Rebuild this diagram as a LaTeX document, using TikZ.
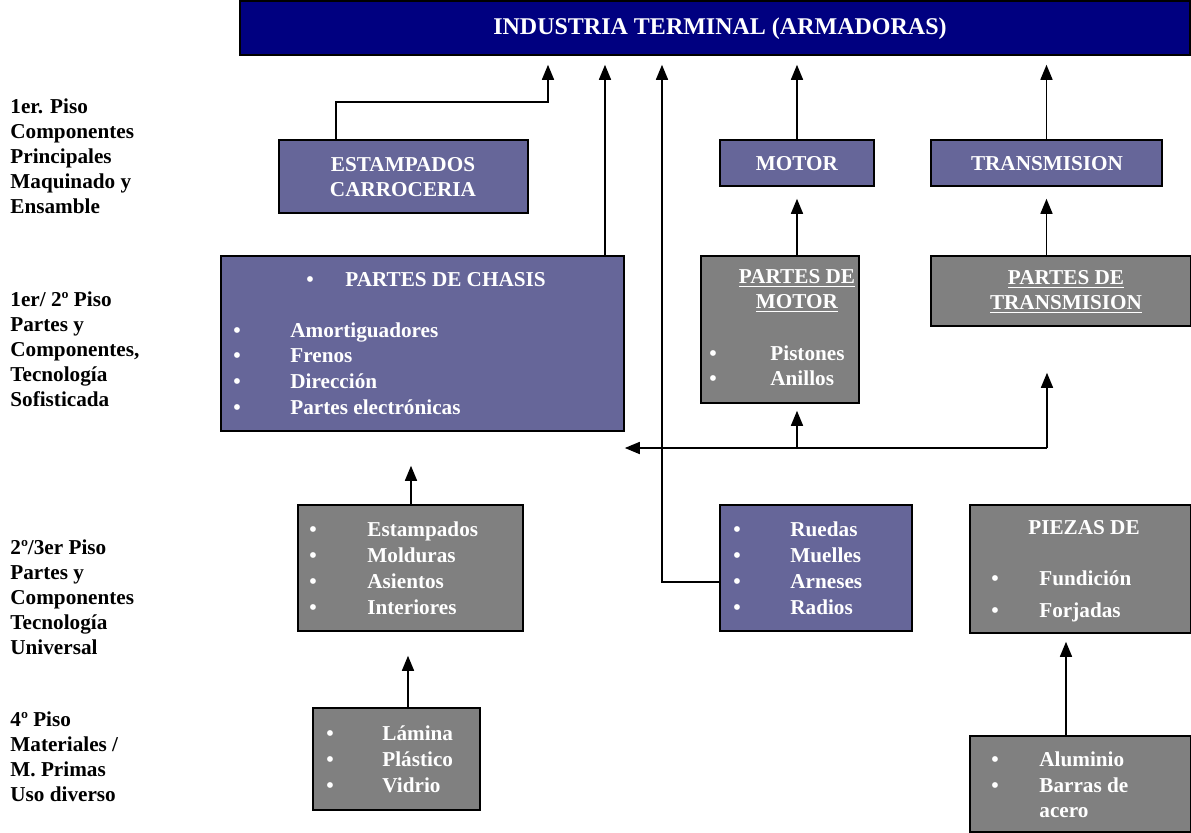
\documentclass[tikz,border=0pt]{standalone}
\usepackage{fontspec}
\setmainfont{Liberation Serif}
\usetikzlibrary{arrows.meta,fit}

\definecolor{navyband}{RGB}{0,0,128}
\definecolor{boxpurple}{RGB}{102,102,153}
\definecolor{boxgray}{RGB}{128,128,128}

\tikzset{
  box/.style={draw=black, line width=0.8pt, inner sep=0pt},
  band/.style={box, fill=navyband},
  purplebox/.style={box, fill=boxpurple},
  graybox/.style={box, fill=boxgray},
  txt/.style={text=white, font=\bfseries, inner sep=0pt},
  item/.style={txt, anchor=west, text height=7.4pt, text depth=2.4pt},
  dot/.style={txt, text height=7.4pt, text depth=2.4pt},
  lbl/.style={font=\bfseries, align=left, anchor=west, inner sep=0pt},
  link/.style={line width=0.8pt},
  arr/.style={link, -{Triangle[length=7.5pt,width=6pt]}}
}

\begin{document}
\fontsize{10.6}{12.5}\selectfont
\begin{tikzpicture}[x=0.5pt,y=-0.5pt]
\useasboundingbox (0,0) rectangle (1191,832);

% banner
\node[band, fit={(240,1)(1190,55)}] (armadoras) {};
\node[txt, font=\fontsize{12}{14}\selectfont\bfseries] (armadorastxt) at (720,29) {INDUSTRIA TERMINAL (ARMADORAS)};

% floor labels
\node[lbl] (piso1) at (10,156) {1er. Piso\\Componentes\\Principales\\Maquinado y\\Ensamble};
\node[lbl] (piso12) at (10,349) {1er/ 2º Piso\\Partes y\\Componentes,\\Tecnología\\Sofisticada};
\node[lbl] (piso23) at (10,597) {2º/3er Piso\\Partes y\\Componentes\\Tecnología\\Universal};
\node[lbl] (piso4) at (10,757) {4º Piso\\Materiales /\\M. Primas\\Uso diverso};

% boxes
\node[purplebox, fit={(279,140)(528,213)}] (carroceria) {};
\node[purplebox, fit={(720,140)(874,186)}] (motor) {};
\node[purplebox, fit={(931,140)(1162,186)}] (transmision) {};
\node[purplebox, fit={(221,256)(624,431)}] (chasis) {};
\node[graybox, fit={(701,256)(859,403)}] (partesmotor) {};
\node[graybox, fit={(931,256)(1191,326)}] (partestrans) {};
\node[graybox, fit={(298,505)(523,631)}] (estampados) {};
\node[purplebox, fit={(720,505)(912,631)}] (ruedas) {};
\node[graybox, fit={(970,505)(1191,633)}] (piezas) {};
\node[graybox, fit={(313,708)(480,810)}] (lamina) {};
\node[graybox, fit={(970,736)(1191,832)}] (aluminio) {};

% box texts
\node[txt, align=center] (carroceriatxt) at (403,177) {ESTAMPADOS\\CARROCERIA};
\node[dot] (motortxt) at (797,165) {MOTOR};
\node[dot] (transmisiontxt) at (1047,165) {TRANSMISION};

\node[dot] (chasisdot) at (310,281) {\textbullet};
\node[item] (chasistxt) at (345,281) {PARTES DE CHASIS};
\foreach \y/\t [count=\i] in {332/Amortiguadores,357/Frenos,383/Dirección,409/Partes electrónicas}{
  \node[dot] (chasisdot\i) at (237,\y) {\textbullet};
  \node[item] (chasis\i) at (290,\y) {\t};
}

\node[txt, align=center] (partesmotortxt) at (797,291) {\underline{PARTES DE}\\\underline{MOTOR}};
\foreach \y/\t [count=\i] in {355/Pistones,380/Anillos}{
  \node[dot] (motordot\i) at (713,\y) {\textbullet};
  \node[item] (motor\i) at (770,\y) {\t};
}

\node[txt, align=center] (partestranstxt) at (1066,292) {\underline{PARTES DE}\\\underline{TRANSMISION}};

\foreach \y/\t [count=\i] in {531/Estampados,557/Molduras,583/Asientos,609/Interiores}{
  \node[dot] (estdot\i) at (313,\y) {\textbullet};
  \node[item] (est\i) at (367,\y) {\t};
}
\foreach \y/\t [count=\i] in {531/Ruedas,557/Muelles,583/Arneses,609/Radios}{
  \node[dot] (ruedot\i) at (737,\y) {\textbullet};
  \node[item] (rue\i) at (790,\y) {\t};
}

\node[dot] (piezastxt) at (1084,529) {PIEZAS DE};
\foreach \y/\t [count=\i] in {580/Fundición,612/Forjadas}{
  \node[dot] (piezadot\i) at (995,\y) {\textbullet};
  \node[item] (pieza\i) at (1039,\y) {\t};
}

\foreach \y/\t [count=\i] in {735/Lámina,761/Plástico,787/Vidrio}{
  \node[dot] (lamdot\i) at (330,\y) {\textbullet};
  \node[item] (lam\i) at (382,\y) {\t};
}

\foreach \y/\t [count=\i] in {761/Aluminio,787/Barras de}{
  \node[dot] (aludot\i) at (995,\y) {\textbullet};
  \node[item] (alu\i) at (1039,\y) {\t};
}
\node[item] (alu3) at (1039,812) {acero};

% connectors to the banner
\draw[arr, shorten >=4.5pt] (carroceria.north -| 336,0) |- (548,102) -- (armadoras.south -| 548,0);
\draw[arr, shorten >=4.5pt] (chasis.north -| 605,0) -- (armadoras.south -| 605,0);
\draw[arr, shorten >=4.5pt] (ruedas.west |- 0,582) -| (armadoras.south -| 662,0);
\draw[arr, shorten >=4.5pt] (motor.north) -- (armadoras.south -| motor.north);
\draw[arr, shorten >=4.5pt] (transmision.north) -- (armadoras.south -| transmision.north);

% second floor
\draw[arr, shorten >=6pt] (partesmotor.north -| motor.north) -- (motor.south);
\draw[arr, shorten >=6pt] (partestrans.north -| transmision.north) -- (transmision.south);

\coordinate (hub) at (1047,448);
\coordinate (split) at (797,448);
\draw[arr] (hub) -- (chasis.east |- hub);
\draw[arr, shorten >=3.5pt] (split) -- (partesmotor.south -| split);
\draw[arr, shorten >=23pt] (hub) -- (partestrans.south -| hub);

% lower floors
\draw[arr, shorten >=17pt] (estampados.north -| 411,0) -- (chasis.south -| 411,0);
\draw[arr, shorten >=12pt] (lamina.north -| 408,0) -- (estampados.south -| 408,0);
\draw[arr, shorten >=4pt] (aluminio.north -| 1066,0) -- (piezas.south -| 1066,0);
\end{tikzpicture}
\end{document}
